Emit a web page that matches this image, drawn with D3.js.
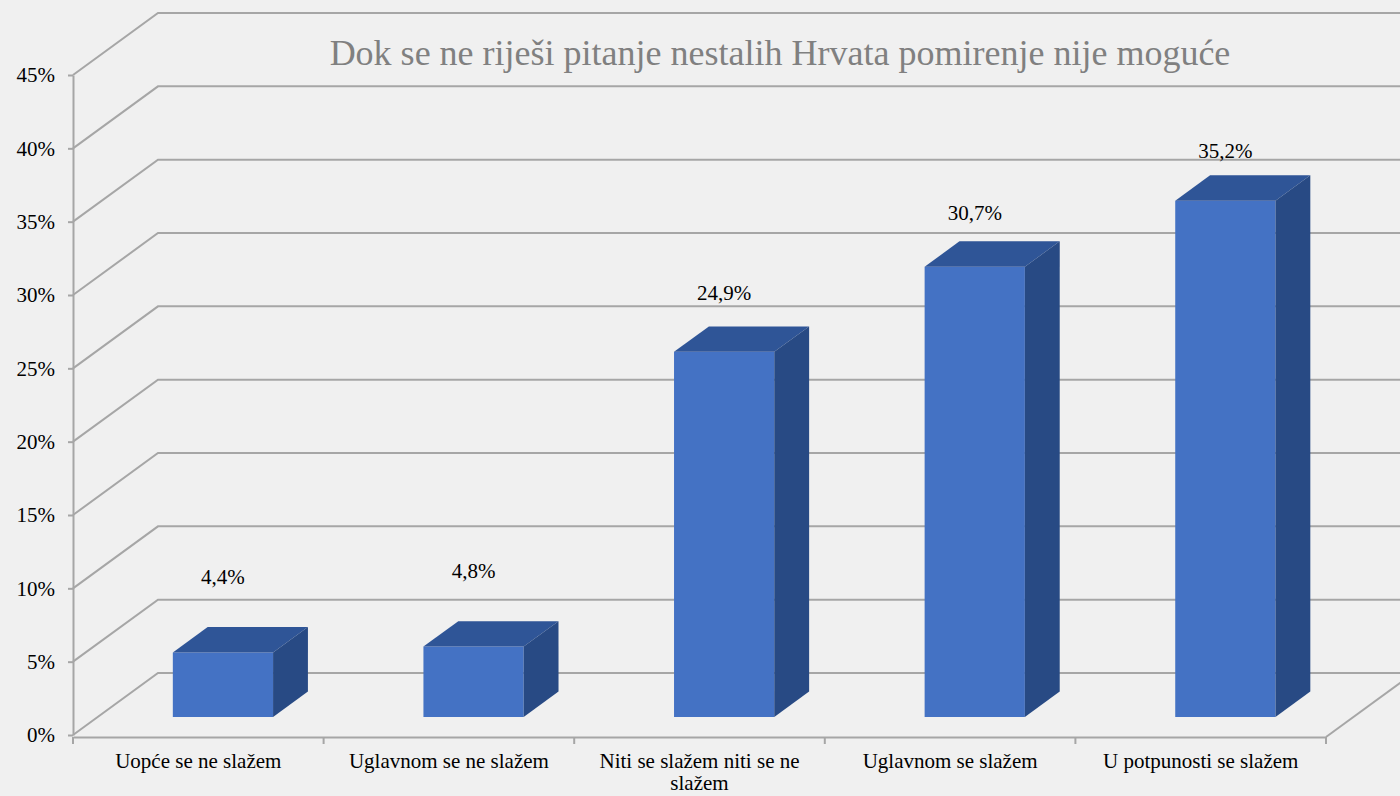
<!DOCTYPE html>
<html>
<head>
<meta charset="utf-8">
<script src="https://cdn.jsdelivr.net/npm/d3@7"></script>
<style>
  body { margin: 0; background: #f0f0f0; }
  svg { display: block; }
  svg text { font-family: "Times New Roman", Times, "Liberation Serif", Tinos, "DejaVu Serif", serif; }
</style>
</head>
<body>
<div class="chart"></div>
<script>
const categories = ["Uopće se ne slažem", "Uglavnom se ne slažem", "Niti se slažem niti se ne slažem", "Uglavnom se slažem", "U potpunosti se slažem"];
const values = [4.4, 4.8, 24.9, 30.7, 35.2];
const valueLabels = ["4,4%", "4,8%", "24,9%", "30,7%", "35,2%"];
const yTicks = [0, 5, 10, 15, 20, 25, 30, 35, 40, 45];
const title = "Dok se ne riješi pitanje nestalih Hrvata pomirenje nije moguće";

const W = 1400, H = 796;
const plotLeft = 73, plotRight = 1326, plotBottom = 735, plotTop = 75;
// depth of the 3d box (offset from front plane to back wall)
const depthX = 85, depthY = -62;
const barFront = 0.29, barBack = 0.70;

const svg = d3.select('.chart')
  .append('svg')
    .attr('width', W)
    .attr('height', H);

svg.append('rect').attr('width', W).attr('height', H).style('fill', '#f0f0f0');

let xScale = d3.scaleBand()
  .domain(categories)
  .range([plotLeft, plotRight])
  .paddingInner(0)
  .paddingOuter(0);

let yScale = d3.scaleLinear()
  .domain([0, 45])
  .range([plotBottom, plotTop]);

// labels sit on a slightly flatter scale, like Excel's perspective placement
let labelScale = d3.scaleLinear()
  .domain([0, 45])
  .range([637, 15]);

const pt = (x, y, f) => [x + depthX * f, y + depthY * f];

const gridColor = '#a6a6a6';

// back wall + side gridlines
let grid = svg.append('g');
yTicks.forEach(t => {
  let y = yScale(t);
  grid.append('path')
    .attr('d', d3.line()([[plotLeft, y], pt(plotLeft, y, 1), [W + 20, y + depthY]]))
    .style('fill', 'none')
    .style('stroke', gridColor)
    .style('stroke-width', 2);
});

// floor right edge
grid.append('path')
  .attr('d', d3.line()([[plotRight, plotBottom + 2], pt(plotRight, plotBottom + 2, 1)]))
  .style('fill', 'none')
  .style('stroke', gridColor)
  .style('stroke-width', 2);

// y axis
let yAxis = d3.axisLeft(yScale)
  .tickValues(yTicks)
  .tickFormat(d => d + '%')
  .tickSize(5)
  .tickSizeOuter(0)
  .tickPadding(13);

let gy = svg.append('g')
  .attr('transform', `translate(${plotLeft}, 0)`)
  .call(yAxis)
  .attr('font-family', null);
gy.selectAll('path, line').style('stroke', gridColor).style('stroke-width', 2);
gy.selectAll('text')
  .style('font-size', '21px')
  .style('fill', '#000');

// x axis
let xAxis = d3.axisBottom(xScale).tickSize(0).tickPadding(16).tickSizeOuter(0);
let gx = svg.append('g')
  .attr('transform', `translate(0, ${plotBottom + 2})`)
  .call(xAxis)
  .attr('font-family', null);
gx.select('.domain').style('stroke', gridColor).style('stroke-width', 2);
gx.selectAll('text')
  .style('font-size', '21px')
  .style('fill', '#000')
  .call(wrap, xScale.bandwidth() - 20);

// boundary ticks
gx.selectAll('line.bound')
  .data(d3.range(categories.length + 1))
  .enter()
  .append('line')
    .attr('class', 'bound')
    .attr('x1', i => plotLeft + i * xScale.step())
    .attr('x2', i => plotLeft + i * xScale.step())
    .attr('y1', 0)
    .attr('y2', 7)
    .style('stroke', gridColor)
    .style('stroke-width', 2);

function wrap(sel, width) {
  sel.each(function() {
    let text = d3.select(this);
    let words = text.text().split(/\s+/);
    let y = text.attr('y'), dy = parseFloat(text.attr('dy'));
    text.text(null);
    let line = [], lineNo = 0;
    let tspan = text.append('tspan').attr('x', 0).attr('y', y).attr('dy', dy + 'em');
    words.forEach(w => {
      line.push(w);
      tspan.text(line.join(' '));
      if (tspan.node().getComputedTextLength() > width && line.length > 1) {
        line.pop();
        tspan.text(line.join(' '));
        line = [w];
        tspan = text.append('tspan').attr('x', 0).attr('y', y)
          .attr('dy', (++lineNo * 1.05 + dy) + 'em').text(w);
      }
    });
  });
}

// bars
const barW = xScale.bandwidth() * 0.4;
const data = categories.map((c, i) => ({ cat: c, value: values[i], label: valueLabels[i] }));

let bars = svg.selectAll('g.bar')
  .data(data)
  .enter()
  .append('g')
    .attr('class', 'bar');

const bx0 = d => xScale(d.cat) + (xScale.bandwidth() - barW) / 2;

// front face
bars.append('path')
  .attr('d', d => {
    let x0 = bx0(d), x1 = x0 + barW;
    let yT = yScale(d.value), yB = yScale(0);
    return d3.line()([pt(x0, yT, barFront), pt(x1, yT, barFront), pt(x1, yB, barFront), pt(x0, yB, barFront)]) + 'Z';
  })
  .style('fill', '#4472c4');

// top face
bars.append('path')
  .attr('d', d => {
    let x0 = bx0(d), x1 = x0 + barW;
    let yT = yScale(d.value);
    return d3.line()([pt(x0, yT, barFront), pt(x1, yT, barFront), pt(x1, yT, barBack), pt(x0, yT, barBack)]) + 'Z';
  })
  .style('fill', '#2f5597');

// side face
bars.append('path')
  .attr('d', d => {
    let x1 = bx0(d) + barW;
    let yT = yScale(d.value), yB = yScale(0);
    return d3.line()([pt(x1, yT, barFront), pt(x1, yT, barBack), pt(x1, yB, barBack), pt(x1, yB, barFront)]) + 'Z';
  })
  .style('fill', '#284a84');

// value labels
bars.append('text')
  .attr('x', d => bx0(d) + barW / 2 + depthX * barFront)
  .attr('y', d => labelScale(d.value))
  .attr('dy', '0.35em')
  .attr('text-anchor', 'middle')
  .style('font-size', '21px')
  .style('fill', '#000')
  .text(d => d.label);

// title
svg.append('text')
  .attr('x', 780)
  .attr('y', 52)
  .attr('dy', '0.35em')
  .attr('text-anchor', 'middle')
  .style('font-size', '36px')
  .style('fill', '#808080')
  .text(title);
</script>
</body>
</html>
